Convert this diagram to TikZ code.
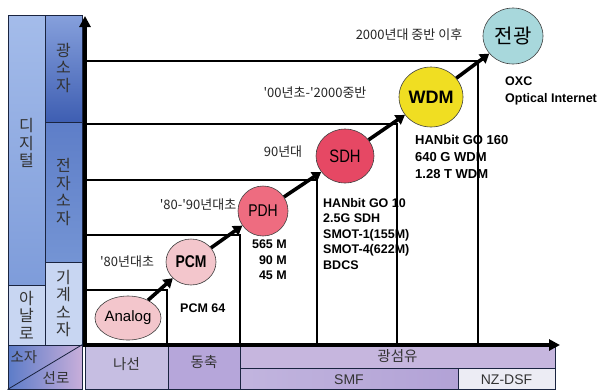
\documentclass[tikz,border=0pt]{standalone}
\usepackage{fontspec}
\setmainfont{Liberation Sans}
\newfontfamily\kr{Noto Sans CJK KR}
\newfontfamily\narrow[FakeStretch=0.82]{Liberation Sans}
\usetikzlibrary{arrows.meta,shapes.geometric}
\definecolor{digi}{HTML}{A4BCEA}
\definecolor{digib}{HTML}{7E9CDA}
\definecolor{optT}{HTML}{86A0DC}
\definecolor{optB}{HTML}{3E5EB2}
\definecolor{eleT}{HTML}{5E7EC8}
\definecolor{eleB}{HTML}{7494D4}
\definecolor{ana}{HTML}{C8D6F2}
\definecolor{navy}{HTML}{1A2440}
\definecolor{cornL}{HTML}{5C7CC8}
\definecolor{cornR}{HTML}{C8AEDA}
\definecolor{nasun}{HTML}{C6BEE2}
\definecolor{dong}{HTML}{B6A6DA}
\definecolor{gwang}{HTML}{C6B6DE}
\definecolor{smf}{HTML}{B2A2D6}
\definecolor{nzd}{HTML}{ECECF4}
\definecolor{pinkL}{HTML}{F3C6CC}
\definecolor{pinkM}{HTML}{EE6C80}
\definecolor{pinkD}{HTML}{E64864}
\definecolor{yel}{HTML}{F0DE22}
\definecolor{cyanL}{HTML}{A8D8DC}
\begin{document}
\begin{tikzpicture}[x=1pt,y=-1pt,
  cell/.style={draw=navy, line width=1pt, inner sep=0pt, align=center},
  vtxt/.style={font=\kr\fontsize{16}{17.5}\selectfont, text=black!80},
  btxt/.style={font=\kr\fontsize{14.5}{16}\selectfont, text=black!80},
  lbl/.style={font=\kr\fontsize{13}{15}\selectfont, text=black!85, inner sep=0pt},
  data/.style={font=\bfseries\fontsize{12.5}{15.5}\selectfont, align=left, inner sep=0pt, anchor=north west},
  tech/.style={ellipse, draw=black!75, line width=0.6pt, inner sep=0pt},
  stepline/.style={line width=1.4pt},
  prog/.style={line width=3.6pt, -{Triangle[length=9pt,width=11pt]}},
  axis/.style={line width=4pt, -{Triangle[length=11pt,width=11pt]}}]
\useasboundingbox (0,0) rectangle (604,389);
\fill[white] (0,0) rectangle (604,389);

% left column
\node[cell, minimum width=37, minimum height=270, top color=digi, bottom color=digib] (digi) at (26.5,150) {};
\node[vtxt, align=center] at (26.5,143) {디\\지\\털};
\node[cell, minimum width=37, minimum height=60, fill=ana] (ana) at (26.5,315) {};
\node[vtxt, align=center] at (26.5,315) {아\\날\\로};
\node[cell, minimum width=37, minimum height=107, top color=optT, bottom color=optB] (opt) at (63.5,68.5) {};
\node[vtxt, align=center] at (63.5,68) {광\\소\\자};
\node[cell, minimum width=37, minimum height=140, top color=eleT, bottom color=eleB] (ele) at (63.5,192) {};
\node[vtxt, align=center] at (63.5,192) {전\\자\\소\\자};
\node[cell, minimum width=37, minimum height=83, fill=ana] (mech) at (63.5,303.5) {};
\node[vtxt, align=center] at (63.5,303.5) {기\\계\\소\\자};
\node[cell, minimum width=74, minimum height=44, left color=cornL, right color=cornR] (corner) at (45,367) {};
\draw[navy, line width=0.8pt] (corner.south west) -- (corner.north east);
\node[btxt] at (24,357) {소자};
\node[btxt] at (56,378) {선로};

% bottom row
\node[cell, minimum width=83, minimum height=44, fill=nasun] (nasun) at (126.5,367) {};
\node[btxt] at (126.5,364) {나선};
\node[cell, minimum width=72, minimum height=44, fill=dong] (dong) at (204,367) {};
\node[btxt] at (204,362) {동축};
\node[cell, minimum width=315, minimum height=23, fill=gwang] (gwang) at (397.5,356.5) {};
\node[btxt] at (397.5,356) {광섬유};
\node[cell, minimum width=218, minimum height=21, left color=smf!80!white, right color=smf] (smf) at (349,378.5) {};
\node[font=\fontsize{14}{15}\selectfont, text=black!80] at (349,380) {SMF};
\node[cell, minimum width=97, minimum height=21, fill=nzd] (nzd) at (506.5,378.5) {};
\node[font=\fontsize{14}{15}\selectfont, text=black!80] at (506.5,380) {NZ-DSF};

% staircase
\draw[stepline] (85,290) -- (167,290) -- (167,345);
\draw[stepline] (85,235) -- (240,235) -- (240,345);
\draw[stepline] (85,180) -- (317,180) -- (317,345);
\draw[stepline] (85,124) -- (397,124) -- (397,345);
\draw[stepline] (85,61) -- (478,61) -- (478,345);

% axes
\coordinate (org) at (85,347);
\coordinate (ytip) at (85,16);
\coordinate (xorg) at (83,345);
\coordinate (xtip) at (560,345);
\draw[axis] (org) -- (ytip);
\draw[axis] (xorg) -- (xtip);

% technology nodes
\node[tech, fill=pinkL, minimum width=58, minimum height=44, font=\fontsize{15}{17}\selectfont] (analog) at (128,318) {Analog};
\node[tech, fill=pinkL, minimum width=50, minimum height=46, font=\narrow\bfseries\fontsize{17}{19}\selectfont] (pcm) at (191,262) {PCM};
\node[tech, fill=pinkM, minimum width=50, minimum height=50, font=\narrow\fontsize{17}{19}\selectfont] (pdh) at (263,211) {PDH};
\node[tech, fill=pinkD, minimum width=58, minimum height=54, font=\narrow\fontsize{18}{20}\selectfont] (sdh) at (345,156) {SDH};
\node[tech, fill=yel, minimum width=64, minimum height=60, font=\bfseries\fontsize{18}{20}\selectfont] (wdm) at (431,97) {WDM};
\node[tech, fill=cyanL, minimum width=60, minimum height=56, font=\kr\fontsize{20}{22}\selectfont] (jg) at (513,36) {전광};

\draw[prog] (analog) -- (pcm);
\draw[prog] (pcm) -- (pdh);
\draw[prog] (pdh) -- (sdh);
\draw[prog] (sdh) -- (wdm);
\draw[prog] (wdm) -- (jg);

% era labels
\node[lbl] at (127,262) {'80년대초};
\node[lbl] at (198,205) {'80-'90년대초};
\node[lbl] at (283,152) {90년대};
\node[lbl] at (315,93) {'00년초-'2000중반};
\node[lbl] at (409,35) {2000년대 중반 이후};

% data labels
\node[data] at (180,304) {PCM 64};
\node[data, align=right, anchor=north east] at (287,240) {565 M\\90 M\\45 M};
\node[data] at (323,198) {HANbit GO 10\\2.5G SDH\\SMOT-1(155M)\\SMOT-4(622M)\\BDCS};
\node[data, font=\bfseries\fontsize{13}{17}\selectfont] at (415,135) {HANbit GO 160\\640 G WDM\\1.28 T WDM};
\node[data, font=\bfseries\fontsize{12.5}{16.5}\selectfont] at (505,77) {OXC\\Optical Internet};
\end{tikzpicture}
\end{document}
